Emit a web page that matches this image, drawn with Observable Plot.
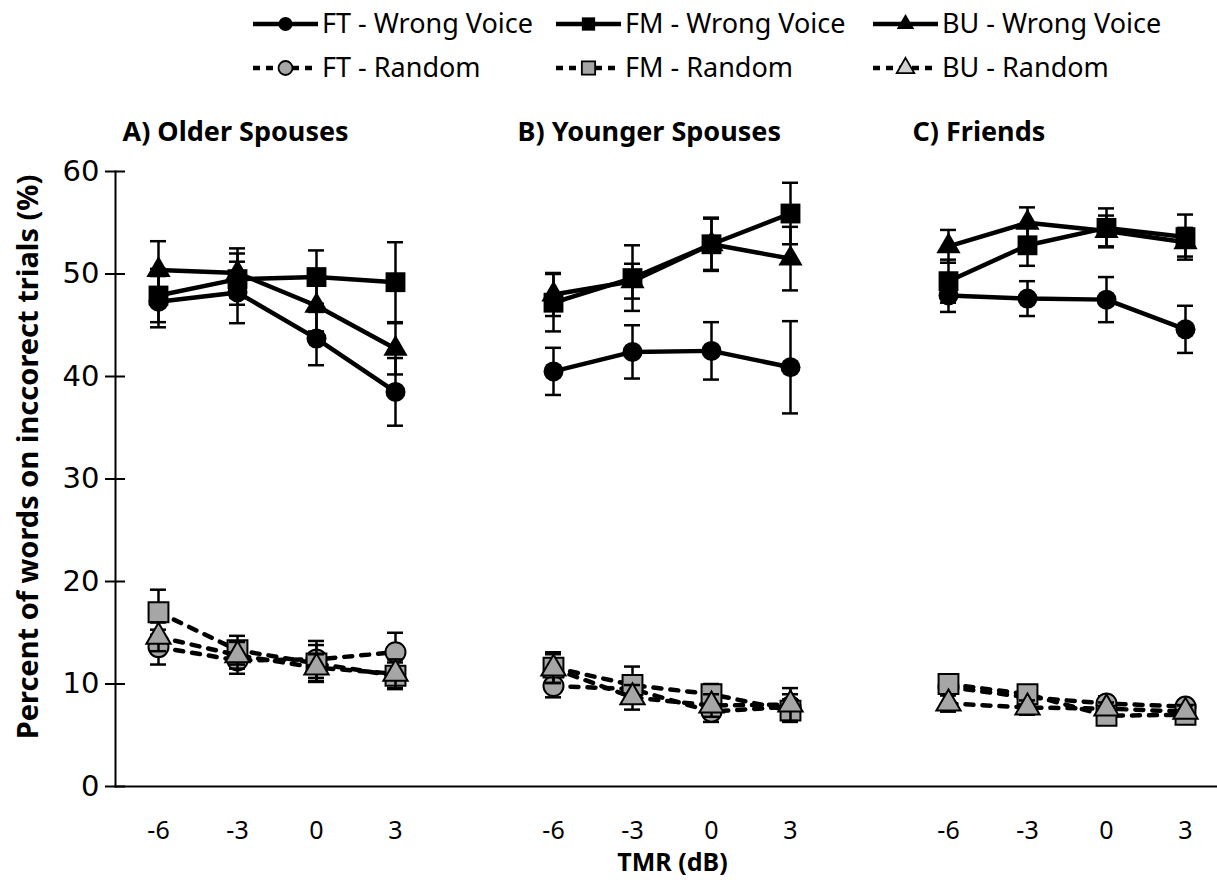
<!DOCTYPE html>
<html>
<head>
<meta charset="utf-8">
<script src="https://cdn.jsdelivr.net/npm/d3@7"></script>
<script src="https://cdn.jsdelivr.net/npm/@observablehq/plot@0.6"></script>
<style>
  html, body { margin: 0; padding: 0; background: #fff; }
  #legend { height: 90px; overflow: hidden; }
  #legend svg, #chart svg { display: block; }
</style>
</head>
<body>
<div id="legend"></div>
<div id="chart"></div>
<script>
// ---------------- data ----------------
const panels = ["A) Older Spouses", "B) Younger Spouses", "C) Friends"];
const tmr = ["-6", "-3", "0", "3"];
const yTicks = [0, 10, 20, 30, 40, 50, 60];
const seriesNames = ["FT - Wrong Voice", "FM - Wrong Voice", "BU - Wrong Voice",
                     "FT - Random", "FM - Random", "BU - Random"];

// values: panel A (-6,-3,0,3), panel B, panel C
const ftWrong    = [47.3, 48.2, 43.7, 38.5,  40.5, 42.4, 42.5, 40.9,  47.9, 47.6, 47.5, 44.6];
const ftWrongErr = [ 2.5,  3.0,  2.6,  3.3,   2.3,  2.6,  2.8,  4.5,   1.6,  1.7,  2.2,  2.3];
const fmWrong    = [47.9, 49.5, 49.7, 49.2,  47.2, 49.6, 52.9, 55.9,  49.3, 52.8, 54.5, 53.6];
const fmWrongErr = [ 2.6,  2.5,  2.6,  3.9,   2.8,  3.2,  2.5,  3.0,   2.1,  2.0,  1.9,  2.2];
const buWrong    = [50.4, 50.1, 46.9, 42.7,  48.0, 49.3, 52.9, 51.5,  52.7, 55.0, 54.2, 53.1];
const buWrongErr = [ 2.8,  2.4,  2.5,  2.5,   2.1,  1.7,  2.6,  3.1,   1.6,  1.5,  1.5,  1.4];
const ftRandom    = [13.6, 12.3, 12.4, 13.1,   9.8,  9.5,  7.3,  7.8,   9.7,  8.7,  8.1,  7.8];
const ftRandomErr = [ 1.7,  1.3,  1.8,  1.9,   1.1,  1.3,  1.0,  1.2,   0.8,  0.7,  0.7,  0.6];
const fmRandom    = [17.0, 13.3, 12.0, 10.8,  11.6,  9.9,  9.0,  7.4,  10.0,  9.0,  6.9,  7.0];
const fmRandomErr = [ 2.2,  1.4,  1.8,  1.3,   1.5,  1.8,  1.0,  1.1,   0.9,  0.8,  0.8,  0.7];
const buRandom    = [14.6, 12.8, 11.6, 11.0,  11.5,  8.7,  7.9,  8.0,   8.1,  7.7,  7.6,  7.3];
const buRandomErr = [ 1.4,  1.3,  1.3,  1.4,   1.4,  1.2,  1.1,  1.6,   0.8,  0.7,  0.6,  0.6];

const seriesValues = [ftWrong, fmWrong, buWrong, ftRandom, fmRandom, buRandom];
const seriesErrors = [ftWrongErr, fmWrongErr, buWrongErr, ftRandomErr, fmRandomErr, buRandomErr];

// ---------------- styles (separate from data) ----------------
const styleOf = {
  "FT - Wrong Voice": {symbol: "circle",   r: 10,   fill: "#000", dash: null, lr: 7},
  "FM - Wrong Voice": {symbol: "square",   r: 11.2, fill: "#000", dash: null, lr: 7.5},
  "BU - Wrong Voice": {symbol: "triangle", r: 9,    fill: "#000", dash: null, lr: 6.5},
  "FT - Random":      {symbol: "circle",   r: 10,   fill: "#a6a6a6", dash: "8,9", lr: 7},
  "FM - Random":      {symbol: "square",   r: 11.2, fill: "#a6a6a6", dash: "8,9", lr: 7.5},
  "BU - Random":      {symbol: "triangle", r: 9,    fill: "#a6a6a6", dash: "8,9", lr: 6.5}
};
const FONT = "'Noto Sans', 'Open Sans', sans-serif";

// ---------------- build table ----------------
const xDomain = [];
panels.forEach((p, pi) => {
  tmr.forEach(t => xDomain.push(pi + "|" + t));
  if (pi < panels.length - 1) xDomain.push(pi + "|gap");
});
const realKeys = xDomain.filter(k => !k.endsWith("gap"));

const rows = [];
seriesNames.forEach((s, si) => {
  panels.forEach((p, pi) => {
    tmr.forEach((t, ti) => {
      const idx = pi * tmr.length + ti;
      rows.push({series: s, panel: p, key: pi + "|" + t, tmr: t,
                 value: seriesValues[si][idx], err: seriesErrors[si][idx]});
    });
  });
});

// ---------------- legend ----------------
(function legend() {
  const W = 1217, H = 90;
  const svg = d3.select("#legend").append("svg").attr("width", W).attr("height", H)
    .style("font-family", FONT);
  const colX = [253, 556, 873];
  const rowY = [24, 68];
  const symMap = {circle: d3.symbolCircle, square: d3.symbolSquare, triangle: d3.symbolTriangle};
  seriesNames.forEach((s, i) => {
    const st = styleOf[s];
    const x0 = colX[i % 3], y0 = rowY[Math.floor(i / 3)];
    const g = svg.append("g").attr("transform", `translate(${x0},${y0})`);
    g.append("line").attr("x1", 0).attr("x2", 65).attr("y1", 0).attr("y2", 0)
      .attr("stroke", "#000").attr("stroke-width", 4.5)
      .attr("stroke-dasharray", st.dash ? "7,6" : null);
    g.append("path")
      .attr("d", d3.symbol(symMap[st.symbol], Math.PI * st.lr * st.lr)())
      .attr("transform", "translate(32.5,0)")
      .attr("fill", st.symbol === "triangle" && st.dash ? "#d0d0d0" : st.fill)
      .attr("stroke", "#000").attr("stroke-width", st.dash ? 1.8 : 0);
    g.append("text").attr("x", 69).attr("y", 0).attr("dy", "0.35em")
      .attr("font-size", 27).text(s);
  });
})();

// ---------------- chart ----------------
const marks = [];
// axes
marks.push(Plot.ruleY(yTicks, {insetLeft: -10, insetRight: 1217 - 115 - 10, stroke: "#000", strokeWidth: 2}));
marks.push(Plot.axisY({ticks: yTicks, tickSize: 0, tickPadding: 16, label: null,
  fontSize: 29, fontFamily: "'DejaVu Sans', sans-serif", fill: "#000"}));
marks.push(Plot.axisX({ticks: realKeys, tickSize: 0, tickPadding: 35, label: null,
  tickFormat: k => k.split("|")[1], fontSize: 25, fontFamily: FONT, fill: "#000"}));
marks.push(Plot.frame({anchor: "left", stroke: "#000", strokeWidth: 2}));
marks.push(Plot.ruleY([0], {stroke: "#000", strokeWidth: 2}));

seriesNames.forEach(s => {
  const st = styleOf[s];
  const data = rows.filter(d => d.series === s);
  marks.push(Plot.ruleX(data, {x: "key", y1: d => d.value - d.err, y2: d => d.value + d.err,
    stroke: "#000", strokeWidth: 2.5}));
  marks.push(Plot.ruleY(data, {x1: "key", x2: "key", y: d => d.value + d.err,
    insetLeft: -8, insetRight: -8, stroke: "#000", strokeWidth: 2.5}));
  marks.push(Plot.ruleY(data, {x1: "key", x2: "key", y: d => d.value - d.err,
    insetLeft: -8, insetRight: -8, stroke: "#000", strokeWidth: 2.5}));
  marks.push(Plot.line(data, {x: "key", y: "value", z: "panel", stroke: "#000",
    strokeWidth: 4.5, strokeDasharray: st.dash, strokeLinecap: st.dash ? "round" : "butt"}));
  marks.push(Plot.dot(data, {x: "key", y: "value", symbol: st.symbol, r: st.r,
    fill: st.fill, stroke: st.dash ? "#000" : "none", strokeWidth: 2}));
});

// panel titles
marks.push(Plot.text(panels, {x: (d, i) => i + "|-6", frameAnchor: "top", lineAnchor: "middle",
  dy: -39, dx: -36, textAnchor: "start", fontWeight: "bold", fontSize: 27, fontFamily: FONT, fill: "#000"}));
// axis titles
marks.push(Plot.text(["TMR (dB)"], {frameAnchor: "bottom", lineAnchor: "middle", dy: 76, dx: 6,
  fontWeight: "bold", fontSize: 25, fontFamily: FONT, fill: "#000"}));
marks.push(Plot.text(["Percent of words on inccorect trials (%)"], {frameAnchor: "left",
  textAnchor: "middle", lineAnchor: "middle", dx: -87, dy: -22,
  rotate: -90, fontWeight: "bold", fontSize: 29, fontFamily: FONT, fill: "#000"}));

const chart = Plot.plot({
  width: 1217, height: 790,
  marginLeft: 115, marginRight: 0, marginTop: 81, marginBottom: 94,
  x: {type: "point", domain: xDomain, range: [115, 1228], padding: 0.5},
  y: {domain: [0, 60]},
  style: {background: "#fff", overflow: "visible", fontFamily: FONT},
  marks
});
document.getElementById("chart").appendChild(chart);
</script>
</body>
</html>
